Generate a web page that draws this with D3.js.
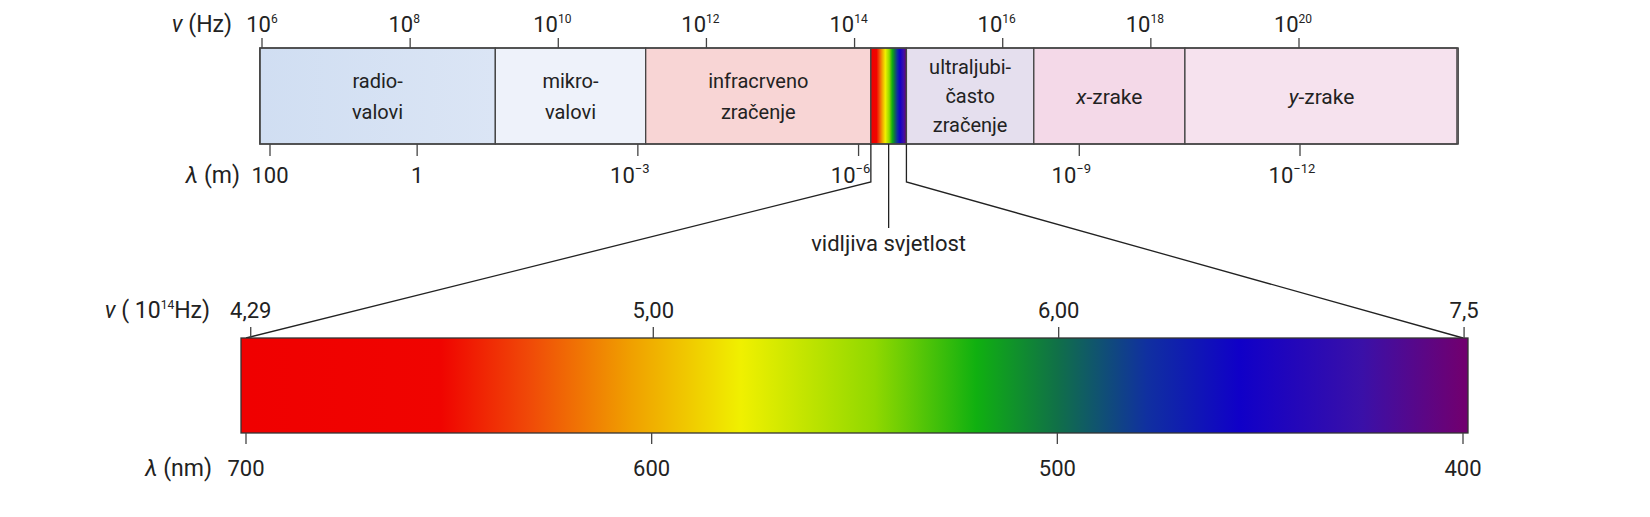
<!DOCTYPE html><html><head><meta charset="utf-8"><script src="https://cdn.jsdelivr.net/npm/d3@7"></script>
<style>body{margin:0;background:#fff}text{font-family:Roboto,sans-serif;fill:#222}</style></head><body><svg id="c" width="1650" height="517"></svg><script>
const freqExp=[6,8,10,12,14,16,18,20];
const lamExp=[2,0,-3,-6,-9,-12];
const lamLabels=["100","1","10","10","10","10"];
const bands=[{name:["radio-","valovi"],from:5.97,to:9.15,color:"#d3e0f3"},
{name:["mikro-","valovi"],from:9.15,to:11.18,color:"#eef2fa"},
{name:["infracrveno","zračenje"],from:11.18,to:14.22,color:"#f8d5d5"},
{name:null,from:14.22,to:14.70,color:"spec"},
{name:["ultraljubi-","často","zračenje"],from:14.70,to:16.42,color:"#e5dfee"},
{name:["x","-zrake"],from:16.42,to:18.46,color:"#f4d9e8",ital:true},
{name:["y","-zrake"],from:18.46,to:22.15,color:"#f6e2ee",ital:true}];
const visFreq=[4.29,5.00,6.00,7.5];
const visFreqLabels=["4,29","5,00","6,00","7,5"];
const visLam=[700,600,500,400];
const specStops=[[700,"#f00000"],[652,"#f00400"],[630,"#f04a08"],[605,"#f0a000"],[578,"#f0f000"],[545,"#90d800"],[520,"#10b010"],[500,"#107048"],[478,"#1030a0"],[455,"#1000c8"],[425,"#3a10a8"],[400,"#700070"]];

const svg=d3.select("#c");
const x=d3.scaleLinear().domain([6,20]).range([262,1299]);
const xl=d3.scaleLinear().domain([2,-12]).range([270,1300]);
const xv=d3.scaleLinear().domain([700,400]).range([246,1463]);
const T=48,B=144;
const defs=svg.append("defs");
function grad(id,x0,x1){const g=defs.append("linearGradient").attr("id",id).attr("gradientUnits","userSpaceOnUse").attr("x1",x0).attr("x2",x1).attr("y1",0).attr("y2",0);
specStops.forEach(s=>g.append("stop").attr("offset",(700-s[0])/300).attr("stop-color",s[1]));}
grad("vs",xv(700),xv(400));
const sb=bands[3];grad("vs2",x(sb.from),x(sb.to));
const rg=defs.append("linearGradient").attr("id","rg");rg.append("stop").attr("offset",0).attr("stop-color","#d0def2");rg.append("stop").attr("offset",1).attr("stop-color","#dbe5f5");

bands.forEach((b,i)=>{svg.append("rect").attr("x",x(b.from)).attr("y",T).attr("width",x(b.to)-x(b.from)).attr("height",B-T)
 .attr("fill",b.color=="spec"?"url(#vs2)":i==0?"url(#rg)":b.color).attr("stroke","#444").attr("stroke-width",1.3);
 if(!b.name)return;const cx=(x(b.from)+x(b.to))/2;
 if(b.ital){const t=svg.append("text").attr("x",cx).attr("y",(T+B)/2+8).attr("text-anchor","middle").attr("font-size",21);
  t.append("tspan").attr("font-style","italic").text(b.name[0]);t.append("tspan").text(b.name[1]);}
 else{const n=b.name.length,lh=n==3?29:31;b.name.forEach((s,j)=>svg.append("text").attr("x",cx).attr("y",(T+B)/2+7+(j-(n-1)/2)*lh).attr("text-anchor","middle").attr("font-size",20).text(s));}
});
svg.append("rect").attr("x",260).attr("y",T).attr("width",1197).attr("height",B-T).attr("fill","none").attr("stroke","#444").attr("stroke-width",1.5);
freqExp.forEach(e=>{svg.append("line").attr("x1",x(e)).attr("x2",x(e)).attr("y1",T-10).attr("y2",T).attr("stroke","#444").attr("stroke-width",1.3);
 const t=svg.append("text").attr("x",x(e)+(e==6?0:-6)).attr("y",32).attr("text-anchor","middle").attr("font-size",22);t.append("tspan").text("10");t.append("tspan").attr("dy",-9).attr("font-size",12).text(e);});
lamExp.forEach((e,i)=>{svg.append("line").attr("x1",xl(e)).attr("x2",xl(e)).attr("y1",B).attr("y2",B+12).attr("stroke","#444").attr("stroke-width",1.3);
 const t=svg.append("text").attr("x",xl(e)+(e<0?-8:0)).attr("y",183).attr("text-anchor","middle").attr("font-size",22);t.append("tspan").text(lamLabels[i]);
 if(e<0)t.append("tspan").attr("dy",-10).attr("font-size",13).text("−"+(-e));});
const tl=svg.append("text").attr("x",232).attr("y",32).attr("text-anchor","end").attr("font-size",23);tl.append("tspan").attr("font-style","italic").text("ν");tl.append("tspan").text(" (Hz)");
const tl2=svg.append("text").attr("x",240).attr("y",183).attr("text-anchor","end").attr("font-size",23);tl2.append("tspan").attr("font-style","italic").text("λ");tl2.append("tspan").text(" (m)");

const VT=338,VB=433;
const a=x(sb.from),bb=x(sb.to),m=(a+bb)/2;
svg.append("path").attr("d",`M${a},${B}V182L${xv(700)},${VT}`).attr("fill","none").attr("stroke","#222").attr("stroke-width",1.3);
svg.append("path").attr("d",`M${bb},${B}V182L${xv(400)},${VT}`).attr("fill","none").attr("stroke","#222").attr("stroke-width",1.3);
svg.append("line").attr("x1",m).attr("x2",m).attr("y1",B).attr("y2",228).attr("stroke","#222").attr("stroke-width",1.3);
svg.append("text").attr("x",m).attr("y",251).attr("text-anchor","middle").attr("font-size",22).text("vidljiva svjetlost");
svg.append("rect").attr("x",241).attr("y",VT).attr("width",1227).attr("height",VB-VT).attr("fill","url(#vs)").attr("stroke","#333").attr("stroke-width",1.3);
visFreq.forEach((f,i)=>{const px=xv(2998/f);
 svg.append("line").attr("x1",px).attr("x2",px).attr("y1",VT-11).attr("y2",VT).attr("stroke","#444").attr("stroke-width",1.3);
 svg.append("text").attr("x",px).attr("y",318).attr("text-anchor","middle").attr("font-size",22).text(visFreqLabels[i]);});
visLam.forEach(l=>{svg.append("line").attr("x1",xv(l)).attr("x2",xv(l)).attr("y1",VB).attr("y2",VB+11).attr("stroke","#444").attr("stroke-width",1.3);
 svg.append("text").attr("x",xv(l)).attr("y",476).attr("text-anchor","middle").attr("font-size",22).text(l);});
const v1=svg.append("text").attr("x",210).attr("y",318).attr("text-anchor","end").attr("font-size",23);
v1.append("tspan").attr("font-style","italic").text("ν");v1.append("tspan").text(" ( 10");v1.append("tspan").attr("dy",-9).attr("font-size",12).text("14");v1.append("tspan").attr("dy",9).text("Hz)");
const l1=svg.append("text").attr("x",212).attr("y",476).attr("text-anchor","end").attr("font-size",23);
l1.append("tspan").attr("font-style","italic").text("λ");l1.append("tspan").text(" (nm)");
</script></body></html>
